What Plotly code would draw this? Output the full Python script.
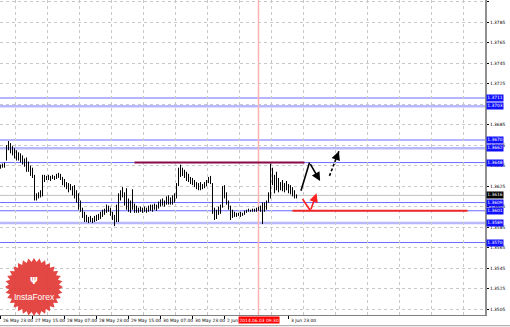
import numpy as np
import plotly.graph_objects as go

# ---------------- data (H1 bars) ----------------
high = [1.3646, 1.3647, 1.3648, 1.3665, 1.3669, 1.3667, 1.3664, 1.3662, 1.3660, 1.3658,
        1.3657, 1.3655, 1.3652, 1.3653, 1.3649, 1.3645, 1.3643, 1.3636, 1.3618, 1.3619,
        1.3621, 1.3636, 1.3636, 1.3635, 1.3636, 1.3635, 1.3636, 1.3635, 1.3637, 1.3638,
        1.3637, 1.3634, 1.3632, 1.3629, 1.3628, 1.3627, 1.3625, 1.3626, 1.3621, 1.3618,
        1.3611, 1.3604, 1.3600, 1.3597, 1.3595, 1.3596, 1.3594, 1.3596, 1.3597, 1.3598,
        1.3600, 1.3602, 1.3603, 1.3607, 1.3606, 1.3604, 1.3600, 1.3597, 1.3607, 1.3618,
        1.3621, 1.3624, 1.3619, 1.3623, 1.3613, 1.3611, 1.3622, 1.3608, 1.3606, 1.3604,
        1.3605, 1.3604, 1.3605, 1.3604, 1.3606, 1.3607, 1.3607, 1.3608, 1.3607, 1.3610,
        1.3612, 1.3613, 1.3611, 1.3615, 1.3616, 1.3614, 1.3616, 1.3618, 1.3628, 1.3643,
        1.3646, 1.3643, 1.3641, 1.3639, 1.3637, 1.3634, 1.3633, 1.3631, 1.3629, 1.3628,
        1.3629, 1.3627, 1.3629, 1.3631, 1.3634, 1.3635, 1.3628, 1.3604, 1.3602, 1.3605,
        1.3607, 1.3625, 1.3626, 1.3619, 1.3611, 1.3606, 1.3602, 1.3600, 1.3599, 1.3599,
        1.3600, 1.3599, 1.3601, 1.3602, 1.3603, 1.3602, 1.3603, 1.3603, 1.3604, 1.3605,
        1.3606, 1.3609, 1.3609, 1.3611, 1.3619, 1.3647, 1.3643, 1.3636, 1.3639, 1.3633,
        1.3629, 1.3631, 1.3628, 1.3630, 1.3627, 1.3626, 1.3624, 1.3621, 1.3617]
low = [1.3642, 1.3643, 1.3643, 1.3650, 1.3660, 1.3657, 1.3655, 1.3652, 1.3650, 1.3650,
       1.3648, 1.3646, 1.3644, 1.3639, 1.3639, 1.3635, 1.3633, 1.3611, 1.3611, 1.3613,
       1.3614, 1.3615, 1.3629, 1.3631, 1.3631, 1.3630, 1.3632, 1.3631, 1.3632, 1.3633,
       1.3631, 1.3626, 1.3624, 1.3622, 1.3619, 1.3621, 1.3616, 1.3613, 1.3609, 1.3602,
       1.3600, 1.3594, 1.3590, 1.3590, 1.3589, 1.3590, 1.3589, 1.3590, 1.3591, 1.3592,
       1.3593, 1.3595, 1.3597, 1.3599, 1.3600, 1.3596, 1.3592, 1.3586, 1.3590, 1.3590,
       1.3611, 1.3614, 1.3606, 1.3602, 1.3600, 1.3599, 1.3602, 1.3599, 1.3599, 1.3599,
       1.3600, 1.3599, 1.3600, 1.3599, 1.3600, 1.3601, 1.3600, 1.3602, 1.3601, 1.3603,
       1.3605, 1.3606, 1.3605, 1.3607, 1.3607, 1.3607, 1.3607, 1.3609, 1.3613, 1.3625,
       1.3634, 1.3635, 1.3633, 1.3630, 1.3629, 1.3627, 1.3626, 1.3624, 1.3622, 1.3621,
       1.3621, 1.3622, 1.3623, 1.3625, 1.3628, 1.3627, 1.3598, 1.3592, 1.3593, 1.3597,
       1.3598, 1.3604, 1.3613, 1.3607, 1.3602, 1.3592, 1.3594, 1.3595, 1.3595, 1.3596,
       1.3595, 1.3596, 1.3597, 1.3599, 1.3600, 1.3600, 1.3600, 1.3600, 1.3600, 1.3601,
       1.3600, 1.3588, 1.3600, 1.3602, 1.3609, 1.3613, 1.3626, 1.3618, 1.3621, 1.3619,
       1.3621, 1.3620, 1.3619, 1.3621, 1.3618, 1.3617, 1.3615, 1.3613, 1.3613]
hours = list(range(len(high)))

time_labels = ["26 May 23:00", "27 May 15:00", "28 May 07:00", "28 May 23:00",
               "29 May 15:00", "30 May 07:00", "30 May 23:00", "2 Jun 15:00", "3 Jun 23:00"]
time_label_hours = [0, 16, 32, 48, 64, 80, 96, 112, 144]
grid_hours = [7.5 + 16 * k for k in range(15)]

price_ticks = [round(1.3505 + 0.002 * k, 4) for k in range(16)]
hidden_tick_labels = [1.3705]   # fully covered by a level box in the reference

level_prices = [1.3711, 1.3703, 1.3670, 1.3662, 1.3648, 1.3609, 1.3601, 1.3589, 1.3570]
level_strong = [True, False, True, False, True, True, True, False, True]
current_price = 1.3616

resistance_price = 1.3648
resistance_span = [67, 152]
support_price = 1.3601
support_span = [146, 233.5]

vline_hour = 129
vline_label = "2014.06.03 09:30"

# forecast arrows (hour, price)
black_path_h = [150, 154.5, 159.8]
black_path_p = [1.3619, 1.3648, 1.3630]
dash_path_h = [164.5, 169.2]
dash_path_p = [1.3635, 1.3659]
red_path_h = [150.5, 155.0, 158.0]
red_path_p = [1.3614, 1.3601, 1.3618]

X_RANGE = [-0.25, 242.25]
Y_RANGE = [1.34993, 1.38066]
PLOT_W, PLOT_H = 485, 315

fig = go.Figure()

bx, by = [], []
for h, hi, lo in zip(hours, high, low):
    bx += [h, h, None]
    by += [lo, hi, None]
fig.add_trace(go.Scatter(x=bx, y=by, mode="lines", line=dict(color="#000000", width=1),
                         hoverinfo="skip"))

shapes = []
for p, strong in zip(level_prices, level_strong):
    shapes.append(dict(type="line", xref="paper", x0=0, x1=1, yref="y", y0=p, y1=p,
                       line=dict(color="#6a6aff" if strong else "#b8b8ff",
                                 width=1 if strong else 2.5), layer="below"))
shapes.append(dict(type="line", xref="paper", x0=0, x1=1, yref="y", y0=current_price,
                   y1=current_price, line=dict(color="#c0c0c0", width=1), layer="below"))
shapes.append(dict(type="line", xref="x", x0=vline_hour, x1=vline_hour, yref="paper",
                   y0=0, y1=1, line=dict(color="#ffb0b0", width=1.5), layer="below"))
shapes.append(dict(type="line", xref="x", x0=resistance_span[0], x1=resistance_span[1],
                   yref="y", y0=resistance_price, y1=resistance_price,
                   line=dict(color="#8a0a45", width=2)))
shapes.append(dict(type="line", xref="x", x0=support_span[0], x1=support_span[1],
                   yref="y", y0=support_price, y1=support_price,
                   line=dict(color="#f02828", width=2)))
shapes.append(dict(type="line", xref="paper", x0=0, x1=1.06, yref="paper", y0=-0.034, y1=-0.034,
                   line=dict(color="#a0a0a0", width=1)))

# InstaForex badge (decorative)
cx, cy, ro, ri, n = 34, 287, 29, 25, 32
pts = []
for k in range(2 * n):
    r = ro if k % 2 == 0 else ri
    a = np.pi * k / n
    px, py = cx + r * np.cos(a), cy + r * np.sin(a)
    pts.append((px / PLOT_W, 1 - py / PLOT_H))
path = "M " + " L ".join(f"{x:.4f},{y:.4f}" for x, y in pts) + " Z"
shapes.append(dict(type="path", xref="paper", yref="paper", path=path,
                   fillcolor="rgba(226,58,55,0.93)", line=dict(width=0), layer="above"))

annotations = []
for t, h in zip(time_labels, time_label_hours):
    annotations.append(dict(x=h, xref="x", y=0, yref="paper", text=t, showarrow=False,
                            xanchor="left", yanchor="top", yshift=-1, xshift=0,
                            font=dict(size=4.4, color="#000000", family="DejaVu Sans")))
annotations.append(dict(x=vline_hour, xref="x", y=0, yref="paper", text=vline_label,
                        showarrow=False, xanchor="center", yanchor="top", yshift=-1,
                        bgcolor="#ff0000", borderpad=0.5,
                        font=dict(size=4.4, color="#ffffff", family="DejaVu Sans")))
for p in level_prices:
    annotations.append(dict(x=1, xref="paper", y=p, yref="y", text=f"{p:.4f}",
                            showarrow=False, xanchor="left", yanchor="middle", xshift=1,
                            bgcolor="#1010ff", borderpad=0.3,
                            font=dict(size=4.4, color="#ffffff", family="DejaVu Sans")))
annotations.append(dict(x=1, xref="paper", y=current_price, yref="y", text=f"{current_price:.4f}",
                        showarrow=False, xanchor="left", yanchor="middle", xshift=1,
                        bgcolor="#000000", borderpad=0.3,
                        font=dict(size=4.4, color="#ffffff", family="DejaVu Sans")))

def seg(h0, p0, h1, p1, color, head):
    return dict(x=h1, y=p1, ax=h0, ay=p0, xref="x", yref="y", axref="x", ayref="y",
                text="", showarrow=True, arrowhead=2 if head else 0, arrowsize=1.1,
                arrowwidth=1.6, arrowcolor=color, standoff=0)

for i in range(len(black_path_h) - 1):
    annotations.append(seg(black_path_h[i], black_path_p[i], black_path_h[i + 1],
                           black_path_p[i + 1], "#000000", i == len(black_path_h) - 2))
for i in range(len(red_path_h) - 1):
    annotations.append(seg(red_path_h[i], red_path_p[i], red_path_h[i + 1],
                           red_path_p[i + 1], "#ff2020", i == len(red_path_h) - 2))
fig.add_trace(go.Scatter(x=dash_path_h, y=dash_path_p, mode="lines",
                         line=dict(color="#000000", width=1.6, dash="3px,2px"), hoverinfo="skip"))
annotations.append(seg(dash_path_h[0] + 0.8 * (dash_path_h[1] - dash_path_h[0]),
                       dash_path_p[0] + 0.8 * (dash_path_p[1] - dash_path_p[0]),
                       dash_path_h[1], dash_path_p[1], "#000000", True))

annotations.append(dict(x=cx / PLOT_W, y=1 - 297 / PLOT_H, xref="paper", yref="paper",
                        text="InstaForex", showarrow=False, xanchor="center", yanchor="middle",
                        font=dict(size=8.5, color="#ffffff", family="Liberation Sans")))
annotations.append(dict(x=cx / PLOT_W, y=1 - 281 / PLOT_H, xref="paper", yref="paper",
                        text="<b>Ψ</b>", showarrow=False, xanchor="center", yanchor="middle",
                        font=dict(size=9, color="#ffffff", family="DejaVu Sans")))

fig.update_layout(
    width=510, height=327,
    margin=dict(l=0, r=25, t=0, b=12, pad=0),
    paper_bgcolor="#ffffff", plot_bgcolor="#ffffff",
    showlegend=False,
    shapes=shapes, annotations=annotations,
    xaxis=dict(range=X_RANGE, tickvals=grid_hours, showticklabels=False, ticks="",
               showgrid=True, gridcolor="#c8c8c8", griddash="dot", gridwidth=1,
               zeroline=False, showline=True, linecolor="#808080", linewidth=1,
               minor=dict(tickvals=time_label_hours, ticks="outside", ticklen=3,
                          tickcolor="#000000", showgrid=False)),
    yaxis=dict(range=Y_RANGE, side="right", tickvals=price_ticks,
               ticktext=["" if v in hidden_tick_labels else f"{v:.4f}" for v in price_ticks],
               tickfont=dict(size=4.4, color="#000000", family="DejaVu Sans"),
               ticks="outside", ticklen=2, tickcolor="#000000",
               showgrid=True, gridcolor="#c8c8c8", griddash="dot", gridwidth=1,
               zeroline=False, showline=True, linecolor="#909090", linewidth=2),
)

fig.write_html("out.html")
